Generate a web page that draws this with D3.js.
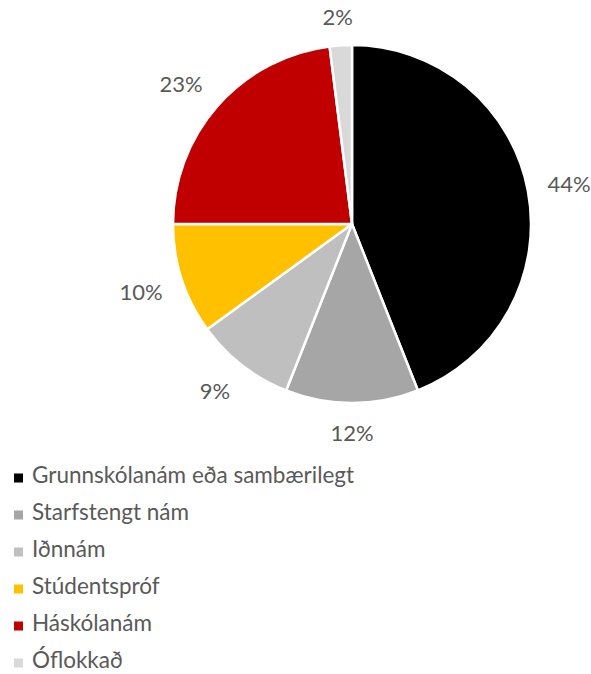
<!DOCTYPE html>
<html>
<head>
<meta charset="utf-8">
<script src="https://cdn.jsdelivr.net/npm/d3@7"></script>
<style>
  body { margin: 0; background: #fff; }
  text { font-family: Lato, "Open Sans", sans-serif; fill: #595959; }
</style>
</head>
<body>
<svg id="main" width="591" height="674"></svg>
<script>
var categories = ["Grunnskólanám eða sambærilegt", "Starfstengt nám", "Iðnnám", "Stúdentspróf", "Háskólanám", "Óflokkað"];
var values = [44, 12, 9, 10, 23, 2];
var colours = ["#000000", "#a6a6a6", "#bfbfbf", "#ffc000", "#c00000", "#d9d9d9"];

var data = categories.map(function(c, i){ return {id: c, value: values[i]}; });

var svg = d3.select("#main");
var cx = 352, cy = 224, r = 179;

var colour = d3.scaleOrdinal().domain(categories).range(colours);

var pie = d3.pie().sort(null).value(function(d){ return d.value; });
var arc = d3.arc().innerRadius(0).outerRadius(r);

var g = svg.append("g").attr("transform", "translate(" + cx + "," + cy + ")");
var arcs = pie(data);

g.selectAll("path")
  .data(arcs)
  .enter()
  .append("path")
  .attr("d", arc)
  .attr("fill", function(d){ return colour(d.data.id); })
  .attr("stroke", "#fff")
  .attr("stroke-width", 2.5)
  .attr("stroke-linejoin", "round");

// outside-end labels: anchor on the ray just past the rim, box pushed outward
var fmt = d3.format(".0%");
var labels = g.selectAll(".lbl")
  .data(arcs)
  .enter()
  .append("text")
  .attr("class", "lbl")
  .attr("text-anchor", "middle")
  .attr("dominant-baseline", "central")
  .style("font-size", "22px")
  .text(function(d){ return fmt(d.data.value / 100); });

function clamp(v){ return Math.max(-1, Math.min(1, v)); }

labels.each(function(d){
  var w = this.getComputedTextLength(), h = 18;
  var a = (d.startAngle + d.endAngle) / 2;
  var px = (r + 20) * Math.sin(a), py = -(r + 20) * Math.cos(a);
  d3.select(this)
    .attr("x", px + clamp(2 * Math.sin(a)) * w / 2)
    .attr("y", py - clamp(2 * Math.cos(a)) * h / 2);
});

// legend
var legY = d3.scalePoint().domain(categories).range([478, 663]);
var leg = svg.selectAll(".leg")
  .data(categories)
  .enter()
  .append("g")
  .attr("class", "leg")
  .attr("transform", function(d){ return "translate(14," + legY(d) + ")"; });

leg.append("rect")
  .attr("x", 0).attr("y", -4.5)
  .attr("width", 9).attr("height", 9)
  .attr("fill", function(d){ return colour(d); });

leg.append("text")
  .attr("x", 18)
  .attr("y", 5)
  .style("font-size", "22.5px")
  .text(function(d){ return d; });
</script>
</body>
</html>
